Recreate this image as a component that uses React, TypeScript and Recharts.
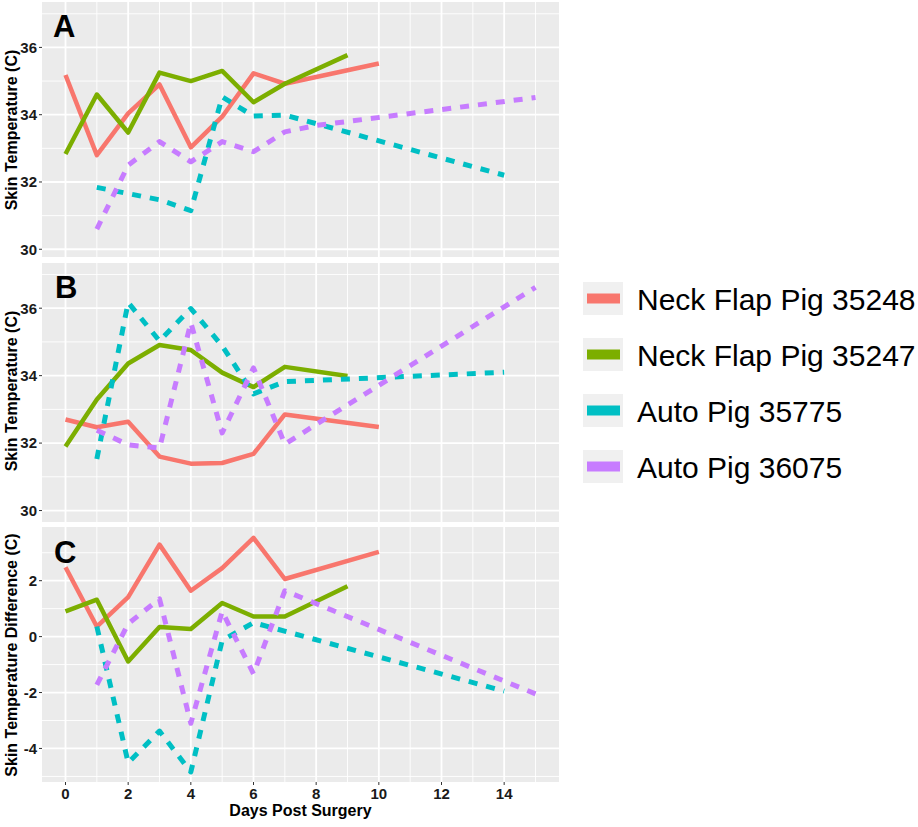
import React from 'react';
import { LineChart, Line, XAxis, YAxis, CartesianGrid, ReferenceLine } from 'recharts';

type Pt = { day: number; temp: number };

const seriesNames = ['Neck Flap Pig 35248', 'Neck Flap Pig 35247', 'Auto Pig 35775', 'Auto Pig 36075'];
const seriesColors = ['#F8766D', '#7CAE00', '#00BFC4', '#C77CFF'];
const seriesDashed = [false, false, true, true];

// Panel A: skin temperature
const aPig35248: Pt[] = [
  { day: 0, temp: 35.18 }, { day: 1, temp: 32.8 }, { day: 2, temp: 34.04 }, { day: 3, temp: 34.9 },
  { day: 4, temp: 33.03 }, { day: 5, temp: 33.94 }, { day: 6, temp: 35.23 }, { day: 7, temp: 34.92 },
  { day: 10, temp: 35.52 },
];
const aPig35247: Pt[] = [
  { day: 0, temp: 32.83 }, { day: 1, temp: 34.6 }, { day: 2, temp: 33.47 }, { day: 3, temp: 35.25 },
  { day: 4, temp: 35.0 }, { day: 5, temp: 35.3 }, { day: 6, temp: 34.37 }, { day: 7, temp: 34.92 },
  { day: 9, temp: 35.77 },
];
const aPig35775: Pt[] = [
  { day: 1, temp: 31.84 }, { day: 3, temp: 31.47 }, { day: 4, temp: 31.15 }, { day: 5, temp: 34.53 },
  { day: 6, temp: 33.96 }, { day: 7, temp: 33.99 }, { day: 14, temp: 32.2 },
];
const aPig36075: Pt[] = [
  { day: 1, temp: 30.6 }, { day: 2, temp: 32.5 }, { day: 3, temp: 33.2 }, { day: 4, temp: 32.6 },
  { day: 5, temp: 33.2 }, { day: 6, temp: 32.9 }, { day: 7, temp: 33.49 }, { day: 8, temp: 33.68 },
  { day: 15, temp: 34.51 },
];

// Panel B: skin temperature
const bPig35248: Pt[] = [
  { day: 0, temp: 32.7 }, { day: 1, temp: 32.47 }, { day: 2, temp: 32.63 }, { day: 3, temp: 31.6 },
  { day: 4, temp: 31.39 }, { day: 5, temp: 31.41 }, { day: 6, temp: 31.68 }, { day: 7, temp: 32.85 },
  { day: 10, temp: 32.48 },
];
const bPig35247: Pt[] = [
  { day: 0, temp: 31.9 }, { day: 1, temp: 33.29 }, { day: 2, temp: 34.36 }, { day: 3, temp: 34.91 },
  { day: 4, temp: 34.76 }, { day: 5, temp: 34.09 }, { day: 6, temp: 33.66 }, { day: 7, temp: 34.26 },
  { day: 9, temp: 33.99 },
];
const bPig35775: Pt[] = [
  { day: 1, temp: 31.53 }, { day: 2, temp: 36.17 }, { day: 3, temp: 35.03 }, { day: 4, temp: 35.99 },
  { day: 5, temp: 34.88 }, { day: 6, temp: 33.46 }, { day: 7, temp: 33.82 }, { day: 14, temp: 34.1 },
];
const bPig36075: Pt[] = [
  { day: 1, temp: 32.38 }, { day: 2, temp: 31.95 }, { day: 3, temp: 31.85 }, { day: 4, temp: 35.57 },
  { day: 5, temp: 32.3 }, { day: 6, temp: 34.23 }, { day: 7, temp: 31.97 }, { day: 15, temp: 36.62 },
];

// Panel C: skin temperature difference
const cPig35248: Pt[] = [
  { day: 0, temp: 2.48 }, { day: 1, temp: 0.36 }, { day: 2, temp: 1.41 }, { day: 3, temp: 3.29 },
  { day: 4, temp: 1.64 }, { day: 5, temp: 2.45 }, { day: 6, temp: 3.53 }, { day: 7, temp: 2.06 },
  { day: 10, temp: 3.03 },
];
const cPig35247: Pt[] = [
  { day: 0, temp: 0.9 }, { day: 1, temp: 1.32 }, { day: 2, temp: -0.89 }, { day: 3, temp: 0.34 },
  { day: 4, temp: 0.27 }, { day: 5, temp: 1.2 }, { day: 6, temp: 0.72 }, { day: 7, temp: 0.72 },
  { day: 9, temp: 1.8 },
];
const cPig35775: Pt[] = [
  { day: 1, temp: 0.36 }, { day: 2, temp: -4.51 }, { day: 3, temp: -3.38 }, { day: 4, temp: -4.84 },
  { day: 5, temp: -0.14 }, { day: 6, temp: 0.5 }, { day: 14, temp: -1.95 },
];
const cPig36075: Pt[] = [
  { day: 1, temp: -1.73 }, { day: 2, temp: 0.46 }, { day: 3, temp: 1.35 }, { day: 4, temp: -3.1 },
  { day: 5, temp: 0.9 }, { day: 6, temp: -1.33 }, { day: 7, temp: 1.64 }, { day: 15, temp: -2.05 },
];

const xMajorTicks = [0, 2, 4, 6, 8, 10, 12, 14];
const xMinorTicks = [1, 3, 5, 7, 9, 11, 13, 15];
const tempMajorTicks = [30, 32, 34, 36];
const tempMinorTicks = [31, 33, 35, 37];
const diffMajorTicks = [-4, -2, 0, 2];
const diffMinorTicks = [-5, -3, -1, 1, 3];

const panelLetters = ['A', 'B', 'C'];
const yTitleTemp = 'Skin Temperature (C)';
const yTitleDiff = 'Skin Temperature Difference (C)';
const xTitle = 'Days Post Surgery';

const FONT = '"Liberation Sans", Arial, sans-serif';
const tickStyle = { fill: '#1a1a1a', fontSize: 15, fontWeight: 'bold' as const, fontFamily: FONT };

type PanelProps = {
  top: number;
  height: number;
  marginTop: number;
  marginBottom: number;
  yDomain: [number, number];
  yMajor: number[];
  yMinor: number[];
  series: Pt[][];
  showX: boolean;
};

function Panel({ top, height, marginTop, marginBottom, yDomain, yMajor, yMinor, series, showX }: PanelProps) {
  return (
    <div style={{ position: 'absolute', left: 0, top }}>
      <LineChart width={560} height={height} margin={{ top: marginTop, right: 1, bottom: marginBottom, left: 0 }}>
        <CartesianGrid horizontal={false} vertical={false} fill="#EBEBEB" stroke="none" />
        <XAxis
          type="number"
          dataKey="day"
          domain={[-0.75, 15.75]}
          ticks={xMajorTicks}
          interval={0}
          allowDataOverflow
          hide={!showX}
          height={showX ? 45 : 0}
          axisLine={false}
          tickSize={3}
          tickMargin={3}
          tickLine={{ stroke: '#333', strokeWidth: 1 }}
          tick={tickStyle}
        />
        <YAxis
          type="number"
          domain={yDomain}
          ticks={yMajor}
          interval={0}
          allowDataOverflow
          width={42}
          axisLine={false}
          tickSize={3}
          tickMargin={2}
          tickLine={{ stroke: '#333', strokeWidth: 1 }}
          tick={tickStyle}
        />
        {yMinor.map((v) => (
          <ReferenceLine key={'ym' + v} y={v} stroke="#FFFFFF" strokeWidth={0.9} zIndex={-50} />
        ))}
        {xMinorTicks.map((v) => (
          <ReferenceLine key={'xm' + v} x={v} stroke="#FFFFFF" strokeWidth={0.9} zIndex={-50} />
        ))}
        {yMajor.map((v) => (
          <ReferenceLine key={'yM' + v} y={v} stroke="#FFFFFF" strokeWidth={1.8} zIndex={-40} />
        ))}
        {xMajorTicks.map((v) => (
          <ReferenceLine key={'xM' + v} x={v} stroke="#FFFFFF" strokeWidth={1.8} zIndex={-40} />
        ))}
        {series.map((d, i) => (
          <Line
            key={seriesNames[i]}
            name={seriesNames[i]}
            data={d}
            dataKey="temp"
            type="linear"
            stroke={seriesColors[i]}
            strokeWidth={seriesDashed[i] ? 5 : 4.5}
            strokeDasharray={seriesDashed[i] ? '9 9' : undefined}
            strokeLinejoin="round"
            dot={false}
            activeDot={false}
            isAnimationActive={false}
          />
        ))}
      </LineChart>
    </div>
  );
}

export default function App() {
  return (
    <div style={{ position: 'absolute', left: 0, top: 0, width: 918, height: 827, background: '#FFFFFF', fontFamily: FONT }}>
      <Panel
        top={0}
        height={259}
        marginTop={2}
        marginBottom={2}
        yDomain={[29.77, 37.35]}
        yMajor={tempMajorTicks}
        yMinor={tempMinorTicks}
        series={[aPig35248, aPig35247, aPig35775, aPig36075]}
        showX={false}
      />
      <Panel
        top={263}
        height={259}
        marginTop={0}
        marginBottom={0}
        yDomain={[29.66, 37.34]}
        yMajor={tempMajorTicks}
        yMinor={tempMinorTicks}
        series={[bPig35248, bPig35247, bPig35775, bPig36075]}
        showX={false}
      />
      <Panel
        top={527}
        height={300}
        marginTop={0}
        marginBottom={0}
        yDomain={[-5.2, 3.92]}
        yMajor={diffMajorTicks}
        yMinor={diffMinorTicks}
        series={[cPig35248, cPig35247, cPig35775, cPig36075]}
        showX={true}
      />
      <svg width={918} height={827} style={{ position: 'absolute', left: 0, top: 0, pointerEvents: 'none' }}>
        <g fontFamily={FONT} fontWeight="bold" fill="#000">
          <text x={53} y={37} fontSize={31}>{panelLetters[0]}</text>
          <text x={55} y={298} fontSize={31}>{panelLetters[1]}</text>
          <text x={54} y={563} fontSize={31}>{panelLetters[2]}</text>
        </g>
        <g fontFamily={FONT} fontWeight="bold" fill="#000" fontSize={16} textAnchor="middle">
          <text transform="translate(16.5,130) rotate(-90)">{yTitleTemp}</text>
          <text transform="translate(16.5,391) rotate(-90)">{yTitleTemp}</text>
          <text transform="translate(16.5,655) rotate(-90)">{yTitleDiff}</text>
          <text x={300.5} y={816}>{xTitle}</text>
        </g>
        <g fontFamily={FONT}>
          {seriesNames.map((name, i) => {
            const y0 = 282 + i * 56;
            return (
              <g key={name}>
                <rect x={583} y={y0} width={40} height={33} fill="#F0F0F0" />
                <line x1={587} x2={620} y1={y0 + 16.5} y2={y0 + 16.5} stroke={seriesColors[i]} strokeWidth={10} />
                <text x={637} y={y0 + 28} fontSize={30} fill="#000">{name}</text>
              </g>
            );
          })}
        </g>
      </svg>
    </div>
  );
}
